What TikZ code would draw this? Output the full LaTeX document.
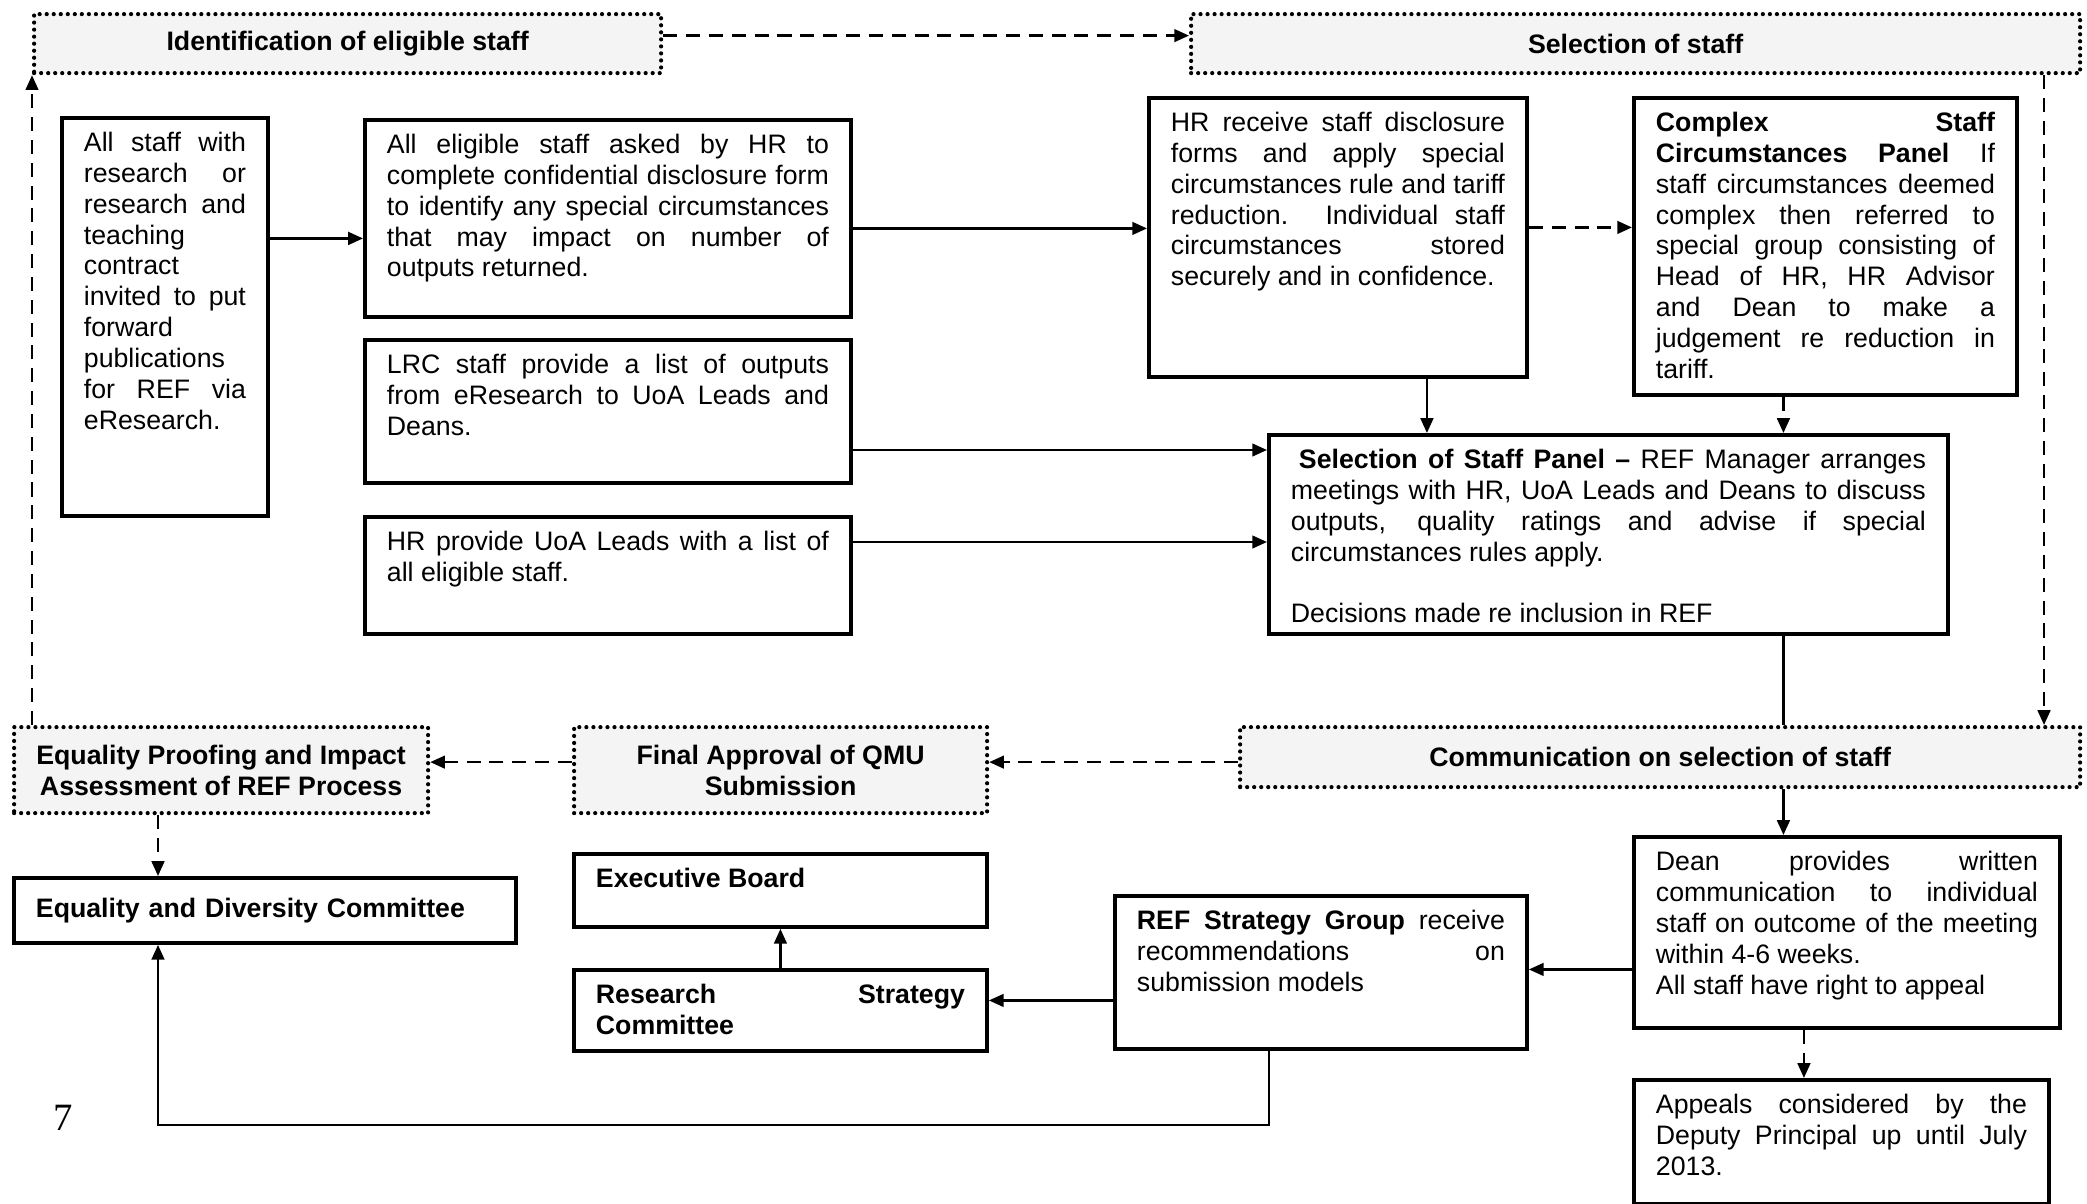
\documentclass[tikz,border=0pt]{standalone}
\usepackage{fontspec}
\setmainfont{Liberation Sans}
\newfontfamily\serifa{Liberation Serif}
\usetikzlibrary{arrows.meta}
\newcommand{\cajatexto}[3]{\parbox[t][#2][t]{#1}{\tolerance=10000\hyphenpenalty=10000 #3}}

\begin{document}
\begin{tikzpicture}[
        font=\fontsize{7.6}{8.8}\selectfont,
        caja/.style={draw, line width=1.1pt, anchor=north west, inner xsep=0.22cm, inner ysep=0.14cm},
        titulo/.style={draw, line width=1.2pt, line cap=round, dash pattern=on 0pt off 2pt, fill=gray!9,
            font=\fontsize{7.6}{8.8}\selectfont\bfseries, align=center, anchor=north west, inner sep=0pt},
        flecha/.style={line width=0.7pt, -{Triangle[length=4.2pt, width=3.6pt]}},
        guion/.style={flecha, dash pattern=on 4pt off 2.5pt},
        linea/.style={line width=0.7pt}]
        \useasboundingbox (0,0) rectangle (20.87,-12.04);

        % Cabeceras punteadas de las fases.
        \node[titulo, minimum width=6.27cm, minimum height=0.59cm] (ident) at (0.32,-0.12) {Identification of eligible staff};
        \node[titulo, minimum width=8.89cm, minimum height=0.59cm] (selstaff) at (11.89,-0.12) {Selection of staff};
        \node[titulo, minimum width=8.40cm, minimum height=0.60cm] (comm) at (12.38,-7.25) {Communication on selection of staff};
        \node[titulo, minimum width=4.13cm, minimum height=0.86cm] (final) at (5.72,-7.25) {Final Approval of QMU\\Submission};
        \node[titulo, minimum width=4.14cm, minimum height=0.86cm] (equality) at (0.12,-7.25) {Equality Proofing and Impact\\Assessment of REF Process};

        % Cajas de la identificación del personal.
        \node[caja] (todos) at (0.60,-1.16) {\cajatexto{1.62cm}{3.70cm}{All staff with\linebreak research or\linebreak research and\linebreak teaching\linebreak contract\linebreak invited to put\linebreak forward\linebreak publications\linebreak for REF via\linebreak eResearch.}};
        \node[caja] (elig) at (3.63,-1.18) {\cajatexto{4.42cm}{1.69cm}{All eligible staff asked by HR to\linebreak complete confidential disclosure form\linebreak to identify any special circumstances\linebreak that may impact on number of\linebreak outputs returned.}};
        \node[caja] (lrc) at (3.63,-3.38) {\cajatexto{4.42cm}{1.15cm}{LRC staff provide a list of outputs\linebreak from eResearch to UoA Leads and\linebreak Deans.}};
        \node[caja] (hrprov) at (3.63,-5.15) {\cajatexto{4.42cm}{0.89cm}{HR provide UoA Leads with a list of\linebreak all eligible staff.}};

        % Cajas de la selección del personal.
        \node[caja] (hrrec) at (11.47,-0.96) {\cajatexto{3.34cm}{2.51cm}{HR receive staff disclosure\linebreak forms and apply special\linebreak circumstances rule and tariff\linebreak reduction. Individual staff\linebreak circumstances stored\linebreak securely and in confidence.}};
        \node[caja] (complex) at (16.32,-0.96) {\cajatexto{3.39cm}{2.69cm}{\textbf{Complex Staff}\linebreak \textbf{Circumstances Panel} If\linebreak staff circumstances deemed\linebreak complex then referred to\linebreak special group consisting of\linebreak Head of HR, HR Advisor\linebreak and Dean to make a\linebreak judgement re reduction in\linebreak tariff.}};
        \node[caja] (panel) at (12.67,-4.33) {\cajatexto{6.35cm}{1.71cm}{\hspace*{0.3em}\textbf{Selection of Staff Panel –} REF Manager arranges\linebreak meetings with HR, UoA Leads and Deans to discuss\linebreak outputs, quality ratings and advise if special\linebreak circumstances rules apply.\\[8.8pt]Decisions made re inclusion in REF}};

        % Cajas de comunicación, comités y apelaciones.
        \node[caja] (dean) at (16.32,-8.35) {\cajatexto{3.82cm}{1.63cm}{Dean provides written\linebreak communication to individual\linebreak staff on outcome of the meeting\linebreak within 4-6 weeks.\\All staff have right to appeal}};
        \node[caja] (appeals) at (16.32,-10.78) {\cajatexto{3.71cm}{0.96cm}{Appeals considered by the\linebreak Deputy Principal up until July\linebreak 2013.}};
        \node[caja] (refsg) at (11.13,-8.94) {\cajatexto{3.68cm}{1.25cm}{\textbf{REF Strategy Group} receive\linebreak recommendations on\linebreak submission models}};
        \node[caja] (exec) at (5.72,-8.52) {\cajatexto{3.69cm}{0.45cm}{\textbf{Executive Board}}};
        \node[caja] (research) at (5.72,-9.68) {\cajatexto{3.69cm}{0.53cm}{\textbf{Research Strategy\linebreak Committee}}};
        \node[caja, minimum width=5.02cm, minimum height=0.65cm, text width=4.58cm] (edc) at (0.12,-8.76) {\textbf{Equality and Diversity Committee}};
        \node[font=\serifa\fontsize{11}{13}\selectfont] (pagina) at (0.63,-11.18) {7};

        % Ejes auxiliares de los conectores verticales.
        \coordinate (ejecom) at ([xshift=-0.42cm]complex.south);
        \coordinate (ejeext) at (20.44,0);
        \coordinate (ejeizq) at (1.58,0);
        \coordinate (codo) at (1.58,-11.25);

        % Conectores de la parte superior.
        \draw[guion] ([yshift=0.08cm]ident.east) -- ([yshift=0.08cm]selstaff.west);
        \draw[flecha] ([yshift=-0.2cm]elig.west -| todos.east) -- ([yshift=-0.2cm]elig.west);
        \draw[flecha] ([yshift=-0.1cm]elig.east) -- ([yshift=-0.1cm]elig.east -| hrrec.west);
        \draw[flecha] ([yshift=-0.17cm]panel.north west -| lrc.east) -- ([yshift=-0.17cm]panel.north west);
        \draw[flecha] ([yshift=-1.09cm]panel.north west -| hrprov.east) -- ([yshift=-1.09cm]panel.north west);
        \draw[guion] ([yshift=0.1cm]hrrec.east) -- ([yshift=0.1cm]hrrec.east -| complex.west);
        \draw[flecha] ([xshift=0.89cm]hrrec.south) -- ([xshift=0.89cm]hrrec.south |- panel.north);
        \draw[guion] (ejecom) -- (ejecom |- panel.north);
        \draw[linea] (ejecom |- panel.south) -- (ejecom |- comm.north);
        \draw[guion] (ejeext |- selstaff.south) -- (ejeext |- comm.north);

        % Conectores de la parte inferior.
        \draw[flecha] (ejecom |- comm.south) -- (ejecom |- dean.north);
        \draw[guion] ([yshift=-0.05cm]comm.west) -- ([yshift=-0.05cm]comm.west -| final.east);
        \draw[guion] ([yshift=-0.05cm]comm.west -| final.west) -- ([yshift=-0.05cm]comm.west -| equality.east);
        \draw[guion] (equality.north -| ident.south west) -- (ident.south west);
        \draw[guion] (ejeizq |- equality.south) -- (ejeizq |- edc.north);
        \draw[flecha] ([yshift=-0.37cm]dean.west) -- ([yshift=-0.37cm]dean.west -| refsg.east);
        \draw[flecha] ([yshift=0.1cm]research.east -| refsg.west) -- ([yshift=0.1cm]research.east);
        \draw[flecha] (research.north) -- (exec.south);
        \draw[flecha] ([xshift=-0.52cm]refsg.south) |- (codo) -- (codo |- edc.south);
        \draw[guion] ([xshift=-0.43cm]dean.south) -- ([xshift=-0.43cm]dean.south |- appeals.north);
    \end{tikzpicture}
\end{document}
